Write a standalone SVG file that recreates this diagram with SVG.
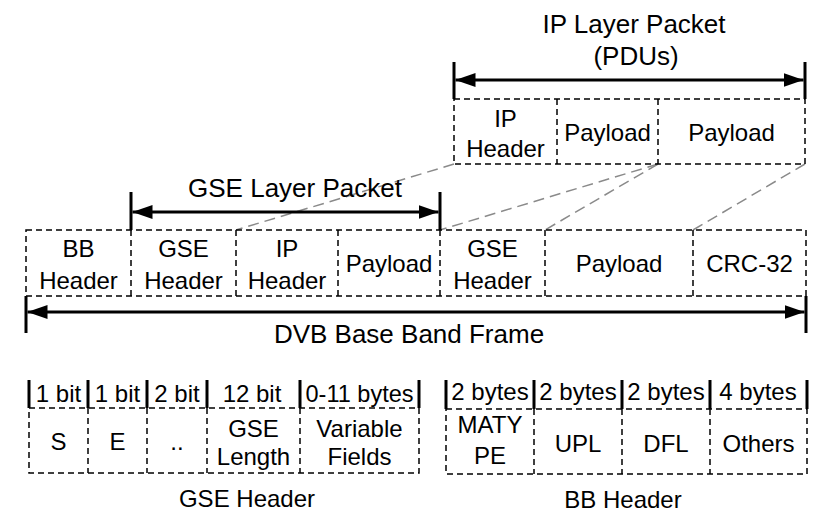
<svg xmlns="http://www.w3.org/2000/svg" width="831" height="522" viewBox="0 0 831 522">
<style>
text{font-family:"Liberation Sans",Arial,Helvetica,sans-serif;fill:#000;text-anchor:middle}
.t{font-size:26px}
.c{font-size:24px}
.s{font-size:24px}
.box{fill:none;stroke:#000;stroke-width:1.5;stroke-dasharray:6 4}
.bar{stroke:#000;stroke-width:3;fill:none}
.arr{stroke:#000;stroke-width:3;fill:none;marker-start:url(#ah);marker-end:url(#ah)}
.map{stroke:#8a8a8a;stroke-width:1.5;stroke-dasharray:11 6;fill:none}
</style>
<defs>
<marker id="ah" viewBox="0 0 20 14" refX="20" refY="7" markerWidth="20" markerHeight="14" markerUnits="userSpaceOnUse" orient="auto-start-reverse">
<path d="M0,0 L20,7 L0,14 z" fill="#000"/>
</marker>
</defs>
<g id="connectors">
<line class="map" x1="454" y1="164" x2="236" y2="230"/>
<line class="map" x1="658" y1="164" x2="440" y2="230"/>
<line class="map" x1="658" y1="164" x2="545" y2="230"/>
<line class="map" x1="805" y1="164" x2="693" y2="230"/>
</g>
<g id="ip-packet">
<text class="t" x="634" y="33">IP Layer Packet</text>
<text class="t" x="636" y="65">(PDUs)</text>
<line class="bar" x1="454" y1="62" x2="454" y2="99"/>
<line class="bar" x1="805" y1="62" x2="805" y2="99"/>
<line class="arr" x1="455.5" y1="80" x2="803.5" y2="80"/>
</g>
<g id="ip-row">
<rect class="box" x="454" y="99" width="351" height="65"/>
<line class="box" x1="557" y1="99" x2="557" y2="164"/>
<line class="box" x1="658" y1="99" x2="658" y2="164"/>
<text class="c" x="505.5" y="127">IP</text>
<text class="c" x="505.5" y="157">Header</text>
<text class="c" x="607.5" y="141">Payload</text>
<text class="c" x="731.5" y="141">Payload</text>
</g>
<g id="gse-packet">
<text class="t" x="295" y="197">GSE Layer Packet</text>
<line class="bar" x1="131" y1="192" x2="131" y2="230"/>
<line class="bar" x1="440" y1="192" x2="440" y2="230"/>
<line class="arr" x1="132.5" y1="212" x2="438.5" y2="212"/>
</g>
<g id="bb-frame">
<rect class="box" x="26" y="230" width="780" height="66"/>
<line class="box" x1="131" y1="230" x2="131" y2="296"/>
<line class="box" x1="236" y1="230" x2="236" y2="296"/>
<line class="box" x1="338" y1="230" x2="338" y2="296"/>
<line class="box" x1="440" y1="230" x2="440" y2="296"/>
<line class="box" x1="545" y1="230" x2="545" y2="296"/>
<line class="box" x1="693" y1="230" x2="693" y2="296"/>
<text class="c" x="78.5" y="257">BB</text>
<text class="c" x="78.5" y="289">Header</text>
<text class="c" x="183.5" y="257">GSE</text>
<text class="c" x="183.5" y="289">Header</text>
<text class="c" x="287" y="257">IP</text>
<text class="c" x="287" y="289">Header</text>
<text class="c" x="389" y="272">Payload</text>
<text class="c" x="492.5" y="257">GSE</text>
<text class="c" x="492.5" y="289">Header</text>
<text class="c" x="619" y="272">Payload</text>
<text class="c" x="749.5" y="272">CRC-32</text>
</g>
<g id="dvb-frame">
<line class="bar" x1="26" y1="296" x2="26" y2="333"/>
<line class="bar" x1="806" y1="296" x2="806" y2="333"/>
<line class="arr" x1="27.5" y1="312" x2="804.5" y2="312"/>
<text class="t" x="409" y="343">DVB Base Band Frame</text>
</g>
<g id="gse-header">
<line class="bar" x1="29" y1="380" x2="29" y2="408"/>
<line class="bar" x1="88" y1="380" x2="88" y2="408"/>
<line class="bar" x1="147" y1="380" x2="147" y2="408"/>
<line class="bar" x1="207" y1="380" x2="207" y2="408"/>
<line class="bar" x1="300" y1="380" x2="300" y2="408"/>
<line class="bar" x1="419" y1="380" x2="419" y2="408"/>
<text class="s" x="58.5" y="402">1 bit</text>
<text class="s" x="117.5" y="402">1 bit</text>
<text class="s" x="177" y="402">2 bit</text>
<text class="s" x="252" y="402">12 bit</text>
<text class="s" x="359.5" y="402" textLength="108" lengthAdjust="spacingAndGlyphs">0-11 bytes</text>
<rect class="box" x="29" y="408" width="390" height="65"/>
<line class="box" x1="88" y1="408" x2="88" y2="473"/>
<line class="box" x1="147" y1="408" x2="147" y2="473"/>
<line class="box" x1="207" y1="408" x2="207" y2="473"/>
<line class="box" x1="300" y1="408" x2="300" y2="473"/>
<text class="c" x="58.5" y="450">S</text>
<text class="c" x="117.5" y="450">E</text>
<text class="c" x="177" y="450">..</text>
<text class="c" x="253.5" y="437">GSE</text>
<text class="c" x="253.5" y="465">Length</text>
<text class="c" x="359.5" y="437">Variable</text>
<text class="c" x="359.5" y="465">Fields</text>
<text class="c" x="247" y="507">GSE Header</text>
</g>
<g id="bb-header">
<line class="bar" x1="446" y1="380" x2="446" y2="409"/>
<line class="bar" x1="534" y1="380" x2="534" y2="409"/>
<line class="bar" x1="622" y1="380" x2="622" y2="409"/>
<line class="bar" x1="710" y1="380" x2="710" y2="409"/>
<line class="bar" x1="807" y1="380" x2="807" y2="409"/>
<text class="s" x="490" y="400">2 bytes</text>
<text class="s" x="578" y="400">2 bytes</text>
<text class="s" x="666" y="400">2 bytes</text>
<text class="s" x="758" y="400">4 bytes</text>
<rect class="box" x="446" y="409" width="361" height="65"/>
<line class="box" x1="534" y1="409" x2="534" y2="474"/>
<line class="box" x1="622" y1="409" x2="622" y2="474"/>
<line class="box" x1="710" y1="409" x2="710" y2="474"/>
<text class="c" x="490" y="433">MATY</text>
<text class="c" x="490" y="464">PE</text>
<text class="c" x="578" y="452">UPL</text>
<text class="c" x="666" y="452">DFL</text>
<text class="c" x="758.5" y="452">Others</text>
<text class="c" x="623" y="508">BB Header</text>
</g>
</svg>
